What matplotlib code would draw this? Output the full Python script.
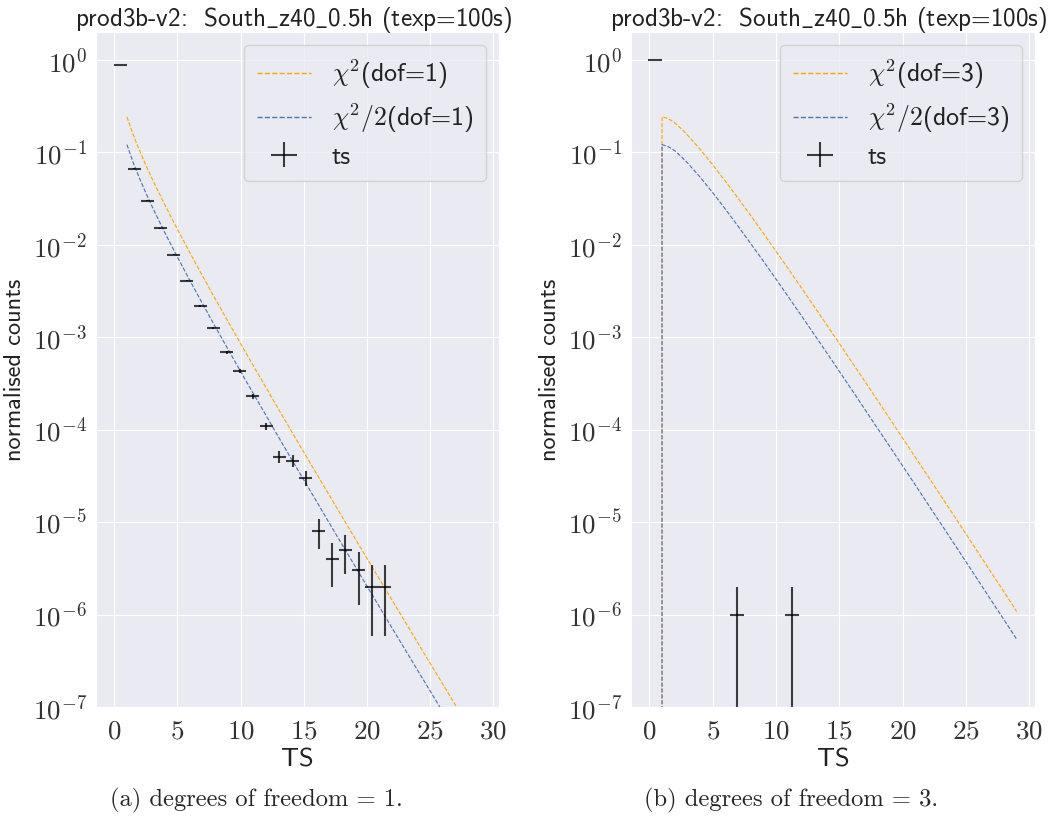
import numpy as np
import matplotlib
matplotlib.use("Agg")
import matplotlib.pyplot as plt
import seaborn as sns
from matplotlib.ticker import FuncFormatter, LogLocator, MultipleLocator

sns.set_style("darkgrid")
plt.rcParams['mathtext.fontset'] = 'cm'
plt.rcParams['axes.unicode_minus'] = False

TITLE = r"prod3b-v2:  South$\_$z40$\_$0.5h (texp=100s)"

# chi2 curves
ts_grid = [1, 1.5, 2, 2.5, 3, 4, 5, 6, 7, 8, 9, 10, 11, 12, 13, 14, 15,
           16, 17, 18, 19, 20, 21, 22, 23, 24, 25, 26, 27, 28, 29]
chi2_dof1 = [0.242, 0.154, 0.104, 0.0723, 0.0514, 0.0270, 0.01465, 0.00811,
             0.00455, 0.00258, 0.00148, 8.50e-4, 4.92e-4, 2.86e-4, 1.66e-4,
             9.72e-5, 5.70e-5, 3.35e-5, 1.97e-5, 1.16e-5, 6.85e-6, 4.05e-6,
             2.40e-6, 1.42e-6, 8.43e-7, 5.00e-7, 2.97e-7, 1.77e-7, 1.05e-7,
             6.27e-8, 3.74e-8]
half_chi2_dof1 = [0.121, 0.077, 0.052, 0.0362, 0.0257, 0.0135, 0.00733,
                  0.00406, 0.00228, 0.00129, 7.40e-4, 4.25e-4, 2.46e-4,
                  1.43e-4, 8.30e-5, 4.86e-5, 2.85e-5, 1.68e-5, 9.85e-6,
                  5.80e-6, 3.43e-6, 2.03e-6, 1.20e-6, 7.10e-7, 4.22e-7,
                  2.50e-7, 1.49e-7, 8.85e-8, 5.25e-8, 3.14e-8, 1.87e-8]

ts_grid3 = [0.97] + ts_grid
chi2_dof3 = [0, 0.242, 0.231, 0.208, 0.181, 0.154, 0.108, 0.0732, 0.0487,
             0.0319, 0.0207, 0.0133, 0.00850, 0.00541, 0.00343, 0.00216,
             0.00136, 8.55e-4, 5.35e-4, 3.35e-4, 2.09e-4, 1.30e-4, 8.10e-5,
             5.03e-5, 3.13e-5, 1.94e-5, 1.20e-5, 7.43e-6, 4.60e-6, 2.84e-6,
             1.76e-6, 1.08e-6]
half_chi2_dof3 = [0, 0.121, 0.115, 0.104, 0.0904, 0.0771, 0.0540, 0.0366,
                  0.0243, 0.0159, 0.0103, 0.00665, 0.00425, 0.00270, 0.00171,
                  0.00108, 6.81e-4, 4.27e-4, 2.68e-4, 1.67e-4, 1.04e-4,
                  6.51e-5, 4.05e-5, 2.52e-5, 1.56e-5, 9.69e-6, 6.01e-6,
                  3.72e-6, 2.30e-6, 1.42e-6, 8.78e-7, 5.42e-7]

# ts histograms (counts normalised by 1e6 trials)
n_trials = 1e6
ts1_centers = [0.52, 1.565, 2.61, 3.655, 4.70, 5.745, 6.79, 7.835, 8.88,
               9.925, 10.97, 12.015, 13.06, 14.105, 15.15, 16.195, 17.24,
               18.285, 19.33, 20.375, 21.42]
ts1_counts = [880000, 66700, 30000, 15100, 7800, 4100, 2190, 1260, 690, 427,
              230, 109, 51, 46, 30, 8, 4, 5, 3, 2, 2]
ts1_halfwidth = 0.52

ts3_centers = [0.45, 6.92, 11.26]
ts3_counts = [999998, 1, 1]
ts3_halfwidth = 0.54


def cm_log(v, pos):
    return r'$10^{%d}$' % int(round(np.log10(v)))


def cm_int(v, pos):
    return r'$%d$' % int(round(v))


fig = plt.figure(figsize=(10.48, 8.27), dpi=100)
ax1 = fig.add_axes([96/1048, 1-707/827, 403/1048, 675/827])
ax2 = fig.add_axes([631/1048, 1-707/827, 404/1048, 675/827])

panels = [
    (ax1, ts_grid, chi2_dof1, half_chi2_dof1, 1, ts1_centers, ts1_counts, ts1_halfwidth, 0.491),
    (ax2, ts_grid3, chi2_dof3, half_chi2_dof3, 3, ts3_centers, ts3_counts, ts3_halfwidth, 0.49),
]

for ax, xg, full, half, dof, cen, cnt, hw, tx in panels:
    ax.plot(xg, full, ls='--', lw=0.8, color='orange',
            label=r'$\chi^2$(dof=%d)' % dof)
    ax.plot(xg, half, ls='--', lw=0.8, color='#4C72B0',
            label=r'$\chi^2/2$(dof=%d)' % dof)
    cnt = np.array(cnt, dtype=float)
    y = cnt / n_trials
    yerr = np.sqrt(cnt) / n_trials
    ax.errorbar(cen, y, xerr=hw, yerr=yerr, fmt='none', ecolor='k',
                elinewidth=1.5, alpha=0.75, label='ts')
    ax.set_yscale('log', nonpositive='clip')
    ax.set_xlim(-1.45, 30.45)
    ax.set_ylim(1e-7, 2)
    ax.xaxis.set_major_locator(MultipleLocator(5))
    ax.yaxis.set_major_locator(LogLocator(base=10, numticks=12))
    ax.yaxis.set_major_formatter(FuncFormatter(cm_log))
    ax.xaxis.set_major_formatter(FuncFormatter(cm_int))
    ax.tick_params(labelsize=19.5, colors='#333333', pad=3)
    ax.tick_params(axis='x', pad=5)
    ax.tick_params(axis='y', which='minor', length=0)
    ax.set_xlabel('TS', family='cmss10', fontsize=19, color='#222222', labelpad=3)
    ax.set_ylabel('normalised counts', family='cmss10', fontsize=17.5,
                  color='#222222', labelpad=5)
    ax.set_title(TITLE, family='cmss10', fontsize=18.1, color='#222222',
                 pad=4, x=tx)
    leg = ax.legend(loc='upper right', handlelength=2.1, borderpad=0.5,
                    labelspacing=0.4, prop={'family': 'cmss10', 'size': 18.6})
    for t in leg.get_texts():
        t.set_color('#222222')
    for h in leg.get_lines()[:2]:
        h.set_linewidth(1.0)

fig.text(256/1048, 1-800/827, '(a) degrees of freedom = 1.', family='cmr10',
         fontsize=17.7, ha='center', va='center')
fig.text(791/1048, 1-800/827, '(b) degrees of freedom = 3.', family='cmr10',
         fontsize=17.7, ha='center', va='center')

fig.savefig('out.png', dpi=100)
